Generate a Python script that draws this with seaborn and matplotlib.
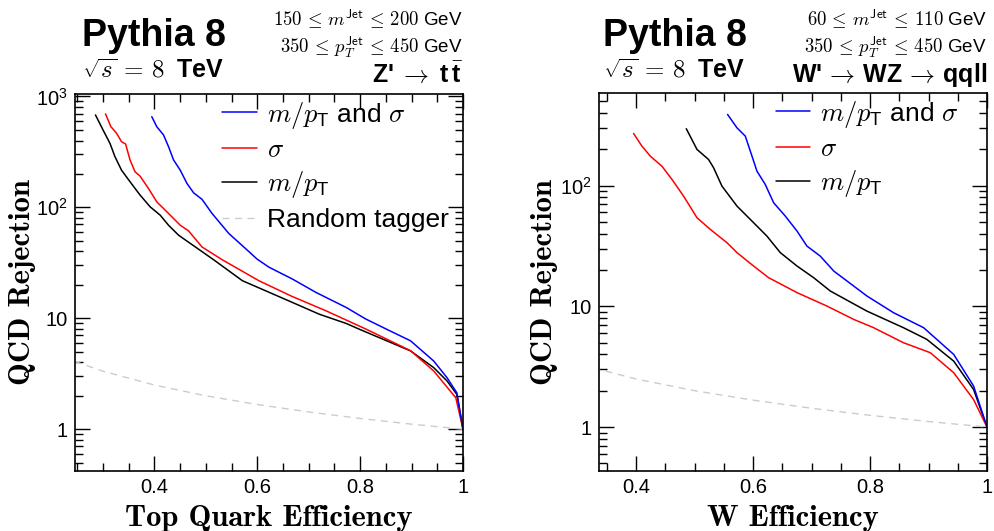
import numpy as np
import pandas as pd
import matplotlib
matplotlib.use("Agg")
import matplotlib.pyplot as plt
import seaborn as sns
from matplotlib.ticker import FixedLocator, MultipleLocator, LogLocator, FuncFormatter, NullFormatter

# ---------------- data ----------------
# Left panel: Z' -> t tbar (Top Quark Efficiency)
top_eff_mpt = [0.2853, 0.300, 0.3134, 0.3232, 0.336, 0.3525, 0.372, 0.3916, 0.4111, 0.4274, 0.447,
               0.4796, 0.515, 0.571, 0.616, 0.668, 0.720, 0.773, 0.798, 0.898, 0.943, 0.969,
               0.988, 1.0]
top_rej_mpt = [680, 498, 378, 286, 216, 170, 129, 101, 85, 68.9, 56,
               43.9, 33.7, 21.8, 17.7, 13.9, 10.9, 8.97, 7.98, 5.08, 3.59, 2.72,
               2.06, 1.0]
top_eff_sig = [0.3048, 0.3153, 0.3263, 0.336, 0.3439, 0.3525, 0.3622, 0.372, 0.3883, 0.4045,
               0.4274, 0.4502, 0.4665, 0.4925, 0.5316, 0.603, 0.668, 0.733, 0.811, 0.898,
               0.943, 0.986, 1.0]
top_rej_sig = [695, 533, 465, 390, 372, 267, 209, 191, 148, 112,
               88, 68.9, 61.2, 43.9, 33.7, 21.8, 15.7, 11.7, 8.0, 5.1,
               3.35, 1.92, 1.0]
top_eff_both = [0.3948, 0.4045, 0.4176, 0.4274, 0.4372, 0.4502, 0.4632, 0.4762, 0.4925, 0.512,
                0.5447, 0.5773, 0.600, 0.623, 0.668, 0.714, 0.773, 0.811, 0.851, 0.898,
                0.943, 0.969, 0.988, 1.0]
top_rej_both = [656, 533, 449, 352, 267, 216, 164, 135, 118, 88,
                58, 42.4, 34.0, 28.8, 22.6, 17.1, 12.5, 9.84, 7.98, 6.26,
                4.12, 2.91, 2.13, 1.0]

# Right panel: W' -> WZ -> qqll (W Efficiency)
w_eff_sig = [0.3954, 0.4097, 0.424, 0.444, 0.461, 0.481, 0.5039, 0.5266, 0.5552, 0.5723,
             0.6007, 0.6264, 0.675, 0.726, 0.772, 0.806, 0.857, 0.903, 0.943, 0.977, 1.0]
w_rej_sig = [271, 213, 176, 145, 113, 82, 54.3, 43.5, 33.7, 27.9,
             21.6, 17.3, 13.0, 10.07, 7.8, 6.66, 5.0, 4.13, 2.82, 1.69, 1.0]
w_eff_mpt = [0.4856, 0.5039, 0.5237, 0.5323, 0.5466, 0.5723, 0.6007, 0.6236, 0.6464, 0.675,
             0.7034, 0.732, 0.7945, 0.857, 0.897, 0.943, 0.977, 1.0]
w_rej_mpt = [297, 200, 165, 141, 99.3, 67.8, 49.4, 38.2, 27.9, 21.6,
             17.3, 13.4, 9.14, 6.66, 5.33, 3.52, 2.05, 1.0]
w_eff_both = [0.5562, 0.5723, 0.5865, 0.598, 0.6065, 0.6207, 0.635, 0.655, 0.675, 0.692,
              0.7148, 0.738, 0.7945, 0.84, 0.8915, 0.943, 0.977, 1.0]
w_rej_both = [390, 302, 258, 176, 132, 102.5, 72.3, 56, 42.1, 31.6,
              26.1, 19.6, 12.2, 8.87, 6.66, 4.0, 2.19, 1.0]

# Random tagger reference line
rand_eff = [0.245, 0.3, 0.4, 0.5, 0.6, 0.7, 0.8, 0.9, 1.0]
rand_rej = [4.08, 3.33, 2.5, 2.0, 1.67, 1.43, 1.25, 1.11, 1.0]

x_ticks = [0.4, 0.6, 0.8, 1.0]
x_tick_labels = ["0.4", "0.6", "0.8", "1"]

lab_both = r"$m/p_{\mathsf{T}}$ and $\sigma$"
lab_sig = r"$\sigma$"
lab_mpt = r"$m/p_{\mathsf{T}}$"
lab_rand = "Random tagger"

# ---------------- style ----------------
sns.set_style("ticks")
plt.rcParams["font.family"] = ["Liberation Sans", "DejaVu Sans"]
plt.rcParams["mathtext.fontset"] = "custom"
plt.rcParams["mathtext.rm"] = "cmr10"
plt.rcParams["mathtext.it"] = "cmmi10"
plt.rcParams["mathtext.bf"] = "Liberation Sans:bold"
plt.rcParams["mathtext.sf"] = "Liberation Sans"
plt.rcParams["mathtext.fallback"] = "cm"
for k in ["text.color", "axes.labelcolor", "xtick.color", "ytick.color", "axes.edgecolor"]:
    plt.rcParams[k] = "black"

W, H = 995, 531
fig = plt.figure(figsize=(W / 100, H / 100), dpi=100)


def ax_rect(l, t, r, b):
    return [l / W, 1 - b / H, (r - l) / W, (b - t) / H]


axL = fig.add_axes(ax_rect(75, 94, 463, 471))
axR = fig.add_axes(ax_rect(599, 93, 987, 471))

BLUE, RED, BLACK, GREY = "#0000ff", "#ff0000", "#000000", "#cccccc"
LW = 1.1


def draw(ax, series, show_random_label):
    df_r = pd.DataFrame({"eff": rand_eff, "rej": rand_rej})
    sns.lineplot(data=df_r, x="eff", y="rej", ax=ax, color=GREY, lw=1.0,
                 linestyle=(0, (5, 4)), sort=False, estimator=None)
    handles = {}
    for eff, rej, col, lab in series:
        df = pd.DataFrame({"eff": eff, "rej": rej})
        sns.lineplot(data=df, x="eff", y="rej", ax=ax, color=col, lw=LW,
                     sort=False, estimator=None)
        handles[lab] = ax.get_lines()[-1]
    hl = [handles[lab_both], handles[lab_sig], handles[lab_mpt]]
    ll = [lab_both, lab_sig, lab_mpt]
    if show_random_label:
        hl.append(ax.get_lines()[0])
        ll.append(lab_rand)
    return hl, ll


def style(ax, xlim, ylim, ymajor, xlabel, ylab_x):
    ax.set_yscale("log")
    ax.set_xlim(*xlim)
    ax.set_ylim(*ylim)
    ax.xaxis.set_major_locator(FixedLocator(x_ticks))
    ax.set_xticklabels(x_tick_labels)
    ax.xaxis.set_minor_locator(MultipleLocator(0.05))
    ax.yaxis.set_major_locator(FixedLocator(ymajor))

    def yfmt(v, pos):
        e = int(round(np.log10(v)))
        if e == 0:
            return "1"
        if e == 1:
            return "10"
        return r"$\mathsf{10^{%d}}$" % e

    ax.yaxis.set_major_formatter(FuncFormatter(yfmt))
    ax.yaxis.set_minor_locator(LogLocator(base=10, subs=np.arange(2, 10), numticks=20))
    ax.yaxis.set_minor_formatter(NullFormatter())
    ax.tick_params(which="both", direction="in", top=True, right=True, width=1.0,
                   color="black", labelsize=14.5)
    ax.tick_params(which="major", length=11, pad=5)
    ax.tick_params(which="minor", length=5.5)
    for s in ax.spines.values():
        s.set_linewidth(1.2)
        s.set_color("black")
    ax.set_xlabel(xlabel, fontsize=22, family="cmb10", va="top")
    ax.set_ylabel("QCD Rejection", fontsize=22, family="cmb10")
    ax.xaxis.set_label_coords(0.5, -0.09)
    ax.yaxis.set_label_coords(ylab_x, 0.5)


hL, lL = draw(axL, [(top_eff_mpt, top_rej_mpt, BLACK, lab_mpt),
                    (top_eff_sig, top_rej_sig, RED, lab_sig),
                    (top_eff_both, top_rej_both, BLUE, lab_both)], True)
hR, lR = draw(axR, [(w_eff_mpt, w_rej_mpt, BLACK, lab_mpt),
                    (w_eff_sig, w_rej_sig, RED, lab_sig),
                    (w_eff_both, w_rej_both, BLUE, lab_both)], False)

style(axL, (0.2455, 1.0), (0.42, 1050), [1, 10, 100, 1000], "Top Quark Efficiency", -0.1)
style(axR, (0.3363, 1.0), (0.432, 587), [1, 10, 100], "W Efficiency", -0.105)

legkw = dict(frameon=False, fontsize=19, handlelength=1.3, handletextpad=0.38,
             labelspacing=0.28, borderpad=0, borderaxespad=0, loc="upper left")
axL.legend(hL, lL, bbox_to_anchor=(0.38, 0.985), **legkw)
axR.legend(hR, lR, bbox_to_anchor=(0.455, 0.985), **legkw)


def ftext(px, py, s, **kw):
    fig.text(px / W, 1 - py / H, s, va="baseline", **kw)


for (l, r, m1, m2, proc) in [
    (82, 463, r"$150\,\leq\,m^{\mathsf{Jet}}\,\leq\,200$ GeV",
     r"$350\,\leq\,p_{T}^{\mathsf{Jet}}\,\leq\,450$ GeV",
     r"Z'$\;\rightarrow\;$t$\,\bar{\mathbf{t}}$"),
    (603, 987, r"$60\,\leq\,m^{\mathsf{Jet}}\,\leq\,110$ GeV",
     r"$350\,\leq\,p_{T}^{\mathsf{Jet}}\,\leq\,450$ GeV",
     r"W'$\,\rightarrow\,$WZ$\,\rightarrow\,$qqll"),
]:
    ftext(l, 46, "Pythia 8", fontsize=27, fontweight="bold")
    ftext(l, 78, r"$\sqrt{s}\,=\,8\;$ TeV", fontsize=18, fontweight="bold", math_fontfamily="cm")
    ftext(r, 26, m1, fontsize=13.5, ha="right", math_fontfamily="cm")
    ftext(r, 53, m2, fontsize=13.5, ha="right", math_fontfamily="cm")
    ftext(r, 82, proc, fontsize=18, fontweight="bold", ha="right")

fig.savefig("out.png", dpi=100)
